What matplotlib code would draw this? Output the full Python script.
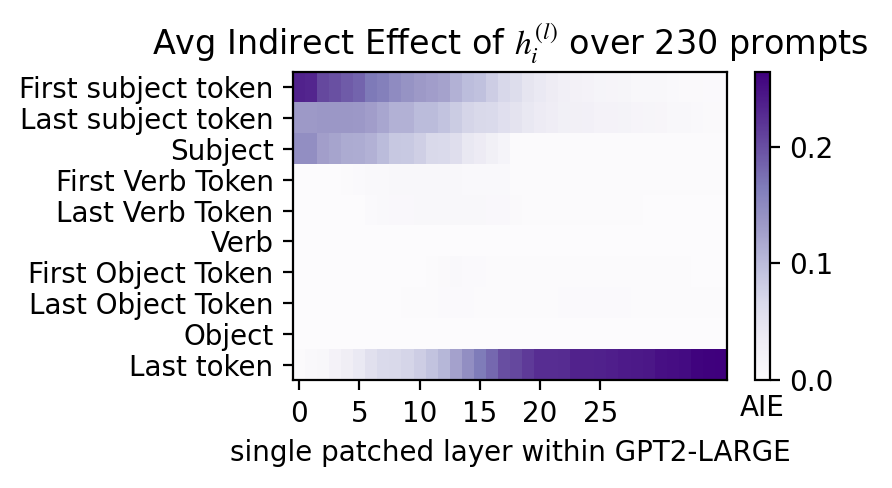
import matplotlib
matplotlib.use("Agg")
import matplotlib.pyplot as plt
import numpy as np

plt.rcParams['mathtext.fontset'] = 'stix'

## row labels (token positions) and layer axis
rows = ["First subject token", "Last subject token", "Subject",
        "First Verb Token", "Last Verb Token", "Verb",
        "First Object Token", "Last Object Token", "Object", "Last token"]
n_layers = 36

## AIE per patched layer
first_subj = [0.235, 0.232, 0.205, 0.198, 0.19, 0.183, 0.167, 0.16, 0.148, 0.14,
              0.133, 0.128, 0.124, 0.11, 0.098, 0.094, 0.08, 0.068, 0.06, 0.047,
              0.04, 0.033, 0.027, 0.022, 0.02, 0.016, 0.015, 0.014, 0.01, 0.01,
              0.009, 0.006, 0.005, 0.005, 0.004, 0.004]
last_subj = [0.132, 0.132, 0.135, 0.135, 0.135, 0.134, 0.128, 0.12, 0.11, 0.11,
             0.1, 0.1, 0.092, 0.082, 0.072, 0.066, 0.065, 0.056, 0.05, 0.042,
             0.036, 0.031, 0.026, 0.025, 0.024, 0.02, 0.02, 0.019, 0.015, 0.014,
             0.013, 0.01, 0.01, 0.006, 0.005, 0.005]
subject = [0.145, 0.145, 0.127, 0.122, 0.116, 0.115, 0.11, 0.1, 0.086, 0.085,
           0.078, 0.066, 0.065, 0.058, 0.042, 0.036, 0.026, 0.016, 0.003, 0.002,
           0.002, 0.002, 0.002, 0.002, 0.002, 0.002, 0.002, 0.002, 0.002, 0.002,
           0.002, 0.002, 0.002, 0.002, 0.002, 0.002]
first_verb = [0.001, 0.001, 0.001, 0.001, 0.002, 0.004, 0.006, 0.007, 0.009, 0.009,
              0.009, 0.009, 0.01, 0.01, 0.007, 0.007, 0.006, 0.006, 0.002, 0.002,
              0.002, 0.002, 0.003, 0.003, 0.003, 0.003, 0.003, 0.003, 0.003, 0.002,
              0.002, 0.002, 0.002, 0.002, 0.002, 0.002]
last_verb = [0.001, 0.001, 0.001, 0.001, 0.001, 0.001, 0.004, 0.006, 0.008, 0.008,
             0.01, 0.01, 0.01, 0.01, 0.01, 0.01, 0.008, 0.008, 0.005, 0.002,
             0.002, 0.002, 0.002, 0.002, 0.002, 0.002, 0.002, 0.002, 0.002, 0.001,
             0.001, 0.001, 0.001, 0.001, 0.001, 0.001]
verb = [0.001] * n_layers
first_obj = [0.001, 0.001, 0.001, 0.001, 0.001, 0.001, 0.001, 0.001, 0.001, 0.001,
             0.001, 0.003, 0.005, 0.007, 0.004, 0.004, 0.002, 0.002, 0.002, 0.002,
             0.002, 0.002, 0.002, 0.003, 0.003, 0.003, 0.003, 0.003, 0.003, 0.003,
             0.002, 0.002, 0.002, 0.001, 0.001, 0.001]
last_obj = [0.001, 0.001, 0.001, 0.001, 0.001, 0.001, 0.001, 0.001, 0.001, 0.002,
            0.002, 0.003, 0.004, 0.004, 0.004, 0.003, 0.003, 0.003, 0.003, 0.003,
            0.003, 0.003, 0.004, 0.004, 0.004, 0.004, 0.004, 0.004, 0.003, 0.003,
            0.003, 0.003, 0.003, 0.003, 0.003, 0.002]
obj = [0.001] * n_layers
last_tok = [0.002, 0.006, 0.009, 0.02, 0.03, 0.04, 0.055, 0.065, 0.066, 0.072,
            0.08, 0.092, 0.105, 0.125, 0.145, 0.165, 0.18, 0.2, 0.205, 0.215,
            0.225, 0.225, 0.226, 0.235, 0.235, 0.236, 0.238, 0.241, 0.242, 0.244,
            0.25, 0.252, 0.254, 0.26, 0.262, 0.264]

scores = np.array([first_subj, last_subj, subject, first_verb, last_verb, verb,
                   first_obj, last_obj, obj, last_tok])

fig = plt.figure(figsize=(4.46, 2.44), dpi=200)
ax = fig.add_axes([0.3285, 0.221, 0.4865, 0.6315])
h = ax.imshow(scores, cmap="Purples", vmin=0, aspect="auto", interpolation="nearest")
ax.set_yticks(range(len(rows)))
ax.set_yticklabels(rows)
ax.set_xticks(range(0, n_layers - 6, 5))
ax.set_xticklabels(list(range(0, n_layers - 6, 5)))
ax.set_title("Avg Indirect Effect of $h_i^{(l)}$ over 230 prompts")
ax.set_xlabel("single patched layer within GPT2-LARGE")

cax = fig.add_axes([0.8465, 0.221, 0.0168, 0.6315])
cb = plt.colorbar(h, cax=cax)
cb.ax.set_xlabel("AIE", labelpad=5)

fig.savefig("out.png", dpi=200)
